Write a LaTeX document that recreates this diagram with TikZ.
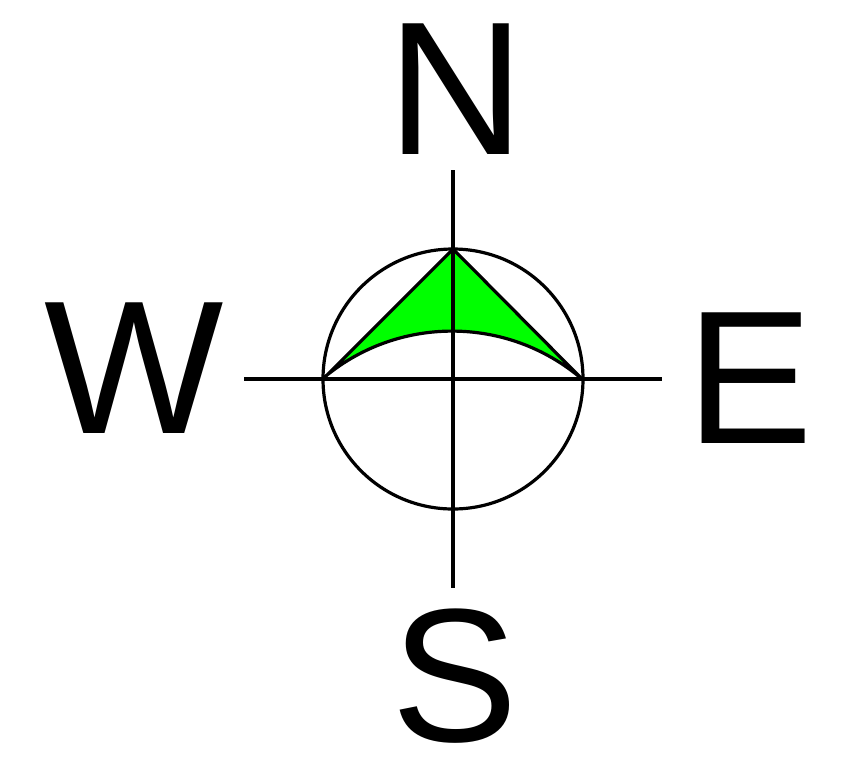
\documentclass[tikz,border=0pt]{standalone}
\usepackage{fontspec}
\setmainfont{Liberation Sans}
\definecolor{needle}{RGB}{0,255,0}
\begin{document}
\begin{tikzpicture}[x=0.75pt,y=-0.75pt,
  letter/.style={font=\fontsize{142.5}{150}\selectfont, inner sep=0pt, anchor=base},
  stroke/.style={line width=2.4pt, black}]
\useasboundingbox (0,0) rectangle (855,764);
\coordinate (c) at (453,379);
\coordinate (top) at (453,249);
\coordinate (lft) at (323,379);
\coordinate (rgt) at (582,379);
\coordinate (hl) at (244,379);
\coordinate (hr) at (662,379);
\coordinate (vt) at (453,170);
\coordinate (vb) at (453,588);
% needle
\fill[needle] (lft) -- (top) -- (rgt) arc[start angle=-49.5, end angle=-130.5, radius=200] -- cycle;
\draw[stroke, line join=round] (lft) -- (top) -- (rgt) arc[start angle=-49.5, end angle=-130.5, radius=200];
% circle and cross
\draw[stroke] (c) circle[radius=130];
\draw[stroke] (hl) -- (hr);
\draw[stroke] (vt) -- (vb);
% letters
\node[letter] (N) at (456,154) {N};
\node[letter] (W) at (134.5,433) {W};
\node[letter] (E) at (750,443) {E};
\node[letter] (S) at (455,741) {S};
\end{tikzpicture}
\end{document}
